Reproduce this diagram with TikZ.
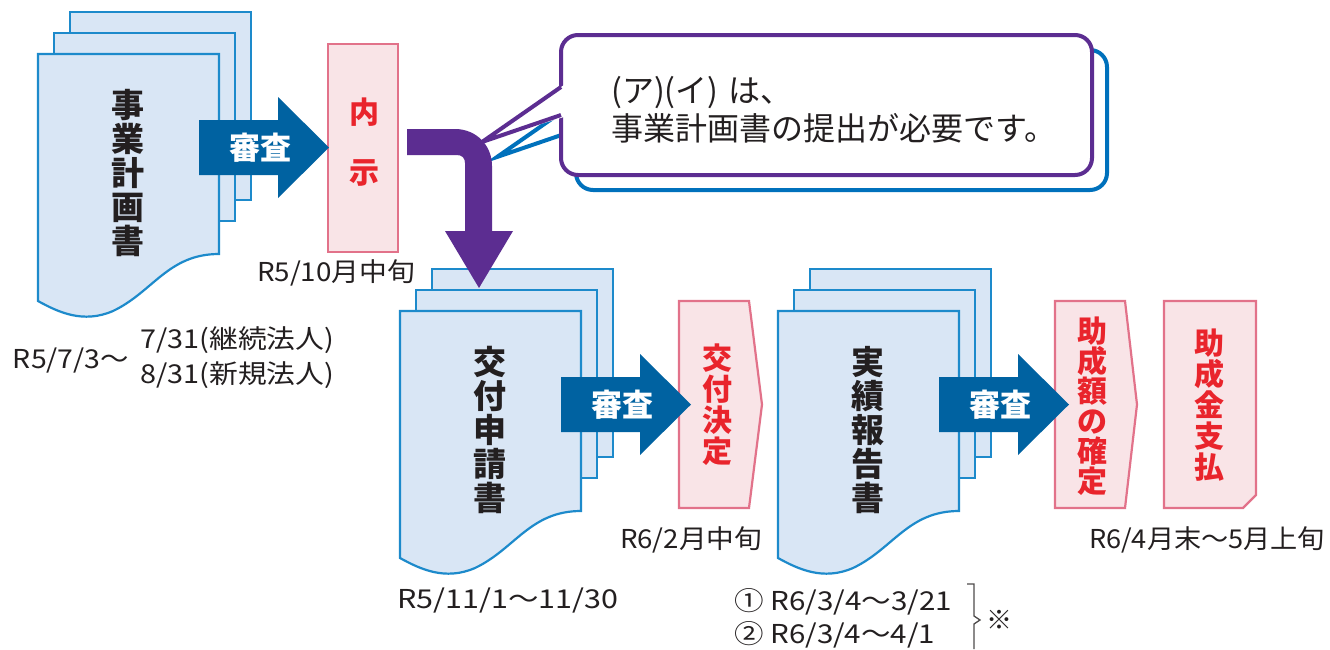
\documentclass[tikz,border=0pt]{standalone}
\usepackage{fontspec}
\usepackage{graphicx}
\setmainfont{Noto Sans CJK JP}
\definecolor{docfill}{HTML}{D9E6F5}
\definecolor{docline}{HTML}{1D8ACB}
\definecolor{arrblue}{HTML}{0062A1}
\definecolor{purp}{HTML}{5C2D91}
\definecolor{bblue}{HTML}{0071BC}
\definecolor{pinkfill}{HTML}{F9E4E7}
\definecolor{pinkline}{HTML}{E2728A}
\definecolor{redtxt}{HTML}{E9242C}
\definecolor{txt}{HTML}{231F20}
\tikzset{
  page/.style={draw=docline, fill=docfill, line width=2.2pt},
  blockarrow/.style={fill=arrblue},
  pinkbox/.style={draw=pinkline, fill=pinkfill, line width=2.2pt},
  doclabel/.style={font=\fontsize{33}{34}\selectfont\bfseries, align=center, text=txt, inner sep=0pt},
  shinsa/.style={font=\fontsize{31}{31}\selectfont\bfseries, text=white, inner sep=0pt},
  redlabel/.style={font=\fontsize{30}{31}\selectfont\bfseries, align=center, text=redtxt, inner sep=0pt},
  datetxt/.style={font=\fontsize{26}{26}\selectfont, text=txt, inner sep=0pt},
  bubbletxt/.style={font=\fontsize{32}{38}\selectfont, text=txt, inner sep=0pt, align=left}
}
\newcommand\fitw[2]{\resizebox{#1pt}{\height}{#2}}
\newcommand\DocStack[2]{%
  \draw[page] ({#1+32},{#2-42}) rectangle ({#1+213},{#2+146});
  \draw[page] ({#1+16},{#2-21}) rectangle ({#1+197},{#2+167});
  \draw[page] (#1,#2) -- ({#1+181},#2) -- ({#1+181},{#2+200})
     .. controls ({#1+130},{#2+200}) and ({#1+115},{#2+238}) .. ({#1+75},{#2+257})
     .. controls ({#1+45},{#2+270}) and ({#1+20},{#2+258}) .. (#1,{#2+247}) -- cycle;
}
\newcommand\BlockArrow[2]{%
  \fill[blockarrow] ({#1+161},{#2+66}) -- ({#1+240},{#2+66}) -- ({#1+240},{#2+43})
    -- ({#1+291},{#2+93.5}) -- ({#1+240},{#2+144}) -- ({#1+240},{#2+121})
    -- ({#1+161},{#2+121}) -- cycle;
}
\begin{document}
\begin{tikzpicture}[x=1pt,y=-1pt]
\useasboundingbox (0,0) rectangle (1330,649);
\fill[white] (0,0) rectangle (1330,649);

% speech bubble (shadow)
\draw[bblue, fill=white, line width=4pt, rounded corners=17pt] (576,50) rectangle (1107,190);
\draw[bblue, fill=white, line width=4pt, line join=miter] (576,102) -- (497,157) -- (576,130);
% speech bubble (front)
\draw[purp, fill=white, line width=4pt, rounded corners=17pt] (561,35) rectangle (1092,175);
\fill[white] (482,142) -- (564,85) -- (564,117) -- cycle;
\draw[purp, line width=4pt, line join=miter] (561,87) -- (482,142) -- (561,115);
\node[bubbletxt, anchor=west] (btxt) at (611,110) {(ア)(イ)\hspace{0.3em}は、\\事業計画書の提出が必要です。};

% document stacks
\DocStack{38}{54}
\DocStack{400}{311}
\DocStack{778}{311}
\node[doclabel] (d1) at (128,173.5) {事\\業\\計\\画\\書};
\node[doclabel] (d2) at (490,430) {交\\付\\申\\請\\書};
\node[doclabel] (d3) at (868,430) {実\\績\\報\\告\\書};

% pink boxes
\draw[pinkbox] (328,44) rectangle (398,252);
\draw[pinkbox] (679,301) -- (749,301) -- (762,404.5) -- (749,508) -- (679,508) -- cycle;
\draw[pinkbox] (1055,301) -- (1125,301) -- (1137,404.5) -- (1125,508) -- (1055,508) -- cycle;
\draw[pinkbox] (1164,301) -- (1256,301) -- (1256,495) -- (1243,508) -- (1164,508) -- cycle;
\node[redlabel, font=\fontsize{30}{60}\selectfont\bfseries] (b1) at (364,142) {内\\示};
\node[redlabel] (b2) at (717,405) {交\\付\\決\\定};
\node[redlabel, font=\fontsize{30}{30}\selectfont\bfseries] (b3) at (1092,406) {助\\成\\額\\の\\確\\定};
\node[redlabel] (b4) at (1209,405) {助\\成\\金\\支\\払};

% blue block arrows
\BlockArrow{38}{54}
\BlockArrow{400}{311}
\BlockArrow{778}{311}
\node[shinsa] (s1) at (260,147.5) {審査};
\node[shinsa] (s2) at (622,404.5) {審査};
\node[shinsa] (s3) at (1000,404.5) {審査};

% purple bent arrow
\fill[purp] (407,129) -- (455,129) .. controls (476,129) and (492,145) .. (492,166)
  -- (492,231) -- (513,231) -- (479,288) -- (445,231) -- (465,231) -- (465,163)
  .. controls (465,158) and (462,155) .. (457,155) -- (407,155) -- cycle;

% dates
\node[datetxt] (t1) at (336,273) {\fitw{158}{R5/10月中旬}};
\node[datetxt] (t2) at (71,360) {\fitw{116}{R5/7/3〜}};
\node[datetxt, anchor=west] (t3) at (140,340) {\fitw{194}{7/31(継続法人)}};
\node[datetxt, anchor=west] (t4) at (140,375) {\fitw{194}{8/31(新規法人)}};
\node[datetxt] (t5) at (691,540) {\fitw{142}{R6/2月中旬}};
\node[datetxt] (t6) at (508,600) {\fitw{221}{R5/11/1〜11/30}};
\node[datetxt, anchor=west] (t7) at (734,602) {\fitw{218}{① R6/3/4〜3/21}};
\node[datetxt, anchor=west] (t8) at (734,635) {\fitw{201}{② R6/3/4〜4/1}};
\node[datetxt] (t9) at (1207,540) {\fitw{236}{R6/4月末〜5月上旬}};
\draw[txt!80, line width=1.3pt] (967,584) -- (974,584) -- (974,616) -- (980,620) -- (974,624) -- (974,649);
\node[datetxt] (t10) at (999,620) {※};
\end{tikzpicture}
\end{document}
